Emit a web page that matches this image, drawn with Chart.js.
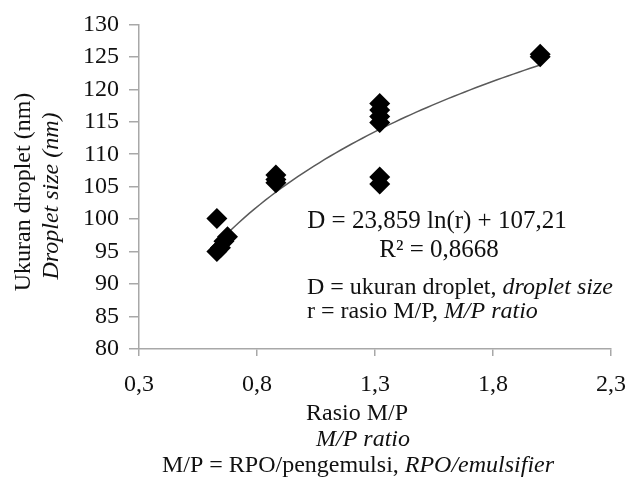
<!DOCTYPE html>
<html>
<head>
<meta charset="utf-8">
<script src="https://cdn.jsdelivr.net/npm/chart.js@4/dist/chart.umd.min.js"></script>
<style>
  html, body { margin: 0; padding: 0; background: #ffffff; }
  #wrap { width: 640px; height: 485px; }
</style>
</head>
<body>
<div id="wrap"><canvas id="c" width="640" height="485"></canvas></div>
<script>
// Measured droplet sizes (nm) against the RPO/emulsifier ratio
const ratioX = [0.63, 0.63, 0.645, 0.66, 0.675,
                0.88, 0.88, 0.88,
                1.32, 1.32, 1.32, 1.32, 1.32, 1.32,
                2.0, 2.0];
const dropletSize = [100.1, 95.0, 95.6, 96.6, 97.3,
                     106.8, 106.1, 105.6,
                     117.8, 116.8, 115.8, 114.9, 106.5, 105.4,
                     125.0, 125.4];

// Logarithmic fit D = a ln(r) + b, as printed on the chart
const fitCoef = [23.859, 107.21];
const fitRange = [0.63, 2.0];

const xTickLabels = ['0,3', '0,8', '1,3', '1,8', '2,3'];
const yTickLabels = ['80', '85', '90', '95', '100', '105', '110', '115', '120', '125', '130'];

const points = ratioX.map((x, i) => ({ x: x, y: dropletSize[i] }));

// sample the fitted curve along the ratio range
const fitPoints = [];
const nSteps = 60;
for (let i = 0; i <= nSteps; i++) {
  const r = fitRange[0] + (fitRange[1] - fitRange[0]) * i / nSteps;
  fitPoints.push({ x: r, y: fitCoef[0] * Math.log(r) + fitCoef[1] });
}

const SERIF = '"Liberation Serif", "Times New Roman", serif';
const TXT = '#111111';
const AXIS = '#a8a8a8';

// draw a line made of roman / italic runs
function drawRuns(ctx, runs, x, y, align, size) {
  const fonts = runs.map(r => (r.i ? 'italic ' : '') + size + 'px ' + SERIF);
  let total = 0;
  const widths = runs.map((r, k) => { ctx.font = fonts[k]; const w = ctx.measureText(r.t).width; total += w; return w; });
  let cx = align === 'center' ? x - total / 2 : x;
  ctx.textAlign = 'left';
  runs.forEach((r, k) => { ctx.font = fonts[k]; ctx.fillText(r.t, cx, y); cx += widths[k]; });
}

const textPlugin = {
  id: 'textLayer',
  afterDraw(chart) {
    const ctx = chart.ctx;
    ctx.save();
    ctx.fillStyle = TXT;
    ctx.textBaseline = 'alphabetic';

    // regression label
    drawRuns(ctx, [{ t: 'D = 23,859 ln(r) + 107,21' }], 437, 228, 'center', 25);
    drawRuns(ctx, [{ t: 'R\u00B2 = 0,8668' }], 439, 257, 'center', 25);
    drawRuns(ctx, [{ t: 'D = ukuran droplet, ' }, { t: 'droplet size', i: true }], 307, 294, 'left', 24);
    drawRuns(ctx, [{ t: 'r = rasio M/P, ' }, { t: 'M/P ratio', i: true }], 307, 318, 'left', 24);

    // x axis title
    drawRuns(ctx, [{ t: 'Rasio M/P' }], 357, 420, 'center', 24);
    drawRuns(ctx, [{ t: 'M/P ratio', i: true }], 363, 446, 'center', 24);
    drawRuns(ctx, [{ t: 'M/P = RPO/pengemulsi, ' }, { t: 'RPO/emulsifier', i: true }], 358, 472, 'center', 24);

    // y axis title
    ctx.save();
    ctx.translate(30, 192);
    ctx.rotate(-Math.PI / 2);
    drawRuns(ctx, [{ t: 'Ukuran droplet (nm)' }], 0, 0, 'center', 24);
    ctx.restore();
    ctx.save();
    ctx.translate(58, 196);
    ctx.rotate(-Math.PI / 2);
    drawRuns(ctx, [{ t: 'Droplet size (nm)', i: true }], 0, 0, 'center', 24);
    ctx.restore();

    ctx.restore();
  }
};

new Chart(document.getElementById('c'), {
  type: 'scatter',
  data: {
    datasets: [
      {
        label: 'Ukuran droplet',
        data: points,
        pointStyle: 'rectRot',
        radius: 10.5,
        hoverRadius: 10.5,
        backgroundColor: '#000000',
        borderColor: '#000000',
        borderWidth: 0
      },
      {
        type: 'line',
        label: 'Log fit',
        data: fitPoints,
        borderColor: '#5a5a5a',
        borderWidth: 1.5,
        pointRadius: 0,
        fill: false,
        tension: 0
      }
    ]
  },
  options: {
    responsive: false,
    animation: false,
    devicePixelRatio: 1,
    layout: { padding: { top: 22, right: 17, bottom: 0, left: 0 } },
    plugins: { legend: { display: false }, tooltip: { enabled: false } },
    scales: {
      x: {
        type: 'linear',
        min: 0.3,
        max: 2.3,
        afterFit(scale) { scale.height = 136; },
        afterBuildTicks(scale) {
          scale.ticks = xTickLabels.map((_, i) => ({ value: 0.3 + 0.5 * i }));
        },
        ticks: {
          callback: (v, i) => xTickLabels[i],
          font: { family: SERIF, size: 24 },
          color: TXT,
          padding: 14,
          maxRotation: 0
        },
        grid: { drawOnChartArea: false, drawTicks: true, tickLength: 7, color: AXIS, lineWidth: 1.5 },
        border: { display: true, color: AXIS, width: 1.5 }
      },
      y: {
        min: 80,
        max: 130,
        afterFit(scale) { scale.width = 139; },
        afterBuildTicks(scale) {
          scale.ticks = yTickLabels.map(t => ({ value: Number(t) }));
        },
        ticks: {
          callback: (v, i) => yTickLabels[i],
          font: { family: SERIF, size: 24 },
          color: TXT,
          padding: 10
        },
        grid: { drawOnChartArea: false, drawTicks: true, tickLength: 10, color: AXIS, lineWidth: 1.5 },
        border: { display: true, color: AXIS, width: 1.5 }
      }
    }
  },
  plugins: [textPlugin]
});
</script>
</body>
</html>
